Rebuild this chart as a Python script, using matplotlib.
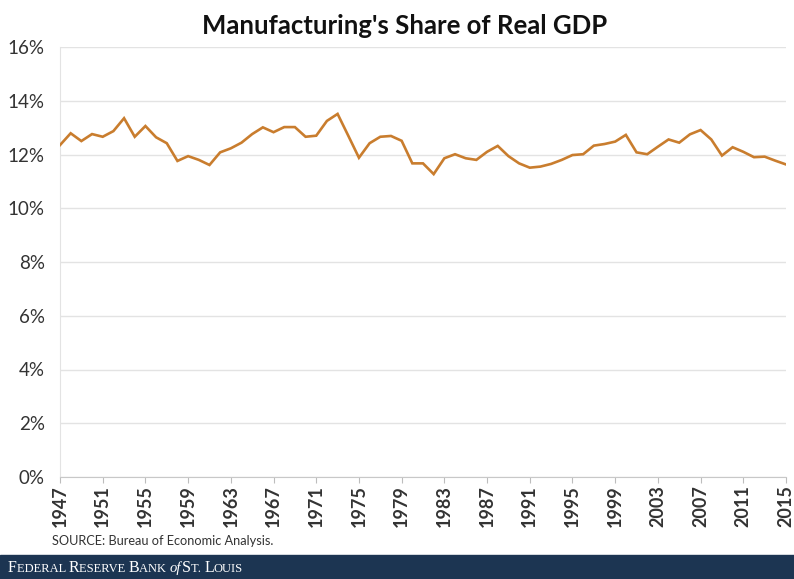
"""Manufacturing's share of real GDP, 1947-2015."""

import matplotlib
matplotlib.use("Agg")
import matplotlib.pyplot as plt
from matplotlib.ticker import FuncFormatter

plt.rcParams["font.family"] = ["Lato", "DejaVu Sans"]

years = list(range(1947, 2016))
share = [
    12.35, 12.79, 12.50, 12.76, 12.66, 12.87, 13.35, 12.66, 13.06, 12.64,
    12.42, 11.76, 11.94, 11.80, 11.61, 12.08, 12.23, 12.44, 12.76, 13.01,
    12.83, 13.02, 13.02, 12.66, 12.70, 13.25, 13.51, 12.70, 11.88, 12.42,
    12.66, 12.69, 12.51, 11.67, 11.67, 11.27, 11.86, 12.01, 11.86, 11.80,
    12.10, 12.32, 11.94, 11.67, 11.51, 11.55, 11.65, 11.80, 11.98, 12.01,
    12.33, 12.39, 12.48, 12.73, 12.08, 12.01, 12.29, 12.56, 12.44, 12.75,
    12.91, 12.56, 11.96, 12.27, 12.10, 11.90, 11.92, 11.77, 11.63,
]
tick_years = list(range(1947, 2016, 4))
y_ticks = [0, 2, 4, 6, 8, 10, 12, 14, 16]

LINE = "#c97d2e"
GRID = "#e3e3e3"
NAVY = "#1c3552"

fig = plt.figure(figsize=(7.94, 5.79), dpi=100)
ax = fig.add_axes([60 / 794, 102 / 579, 726 / 794, 430 / 579])

ax.plot(years, share, color=LINE, lw=1.9, solid_joinstyle="miter", zorder=3)

ax.set_xlim(1947, 2015)
ax.set_ylim(0, 16)
ax.set_yticks(y_ticks)
ax.yaxis.set_major_formatter(FuncFormatter(lambda v, _: f"{v:.0f}%"))
ax.set_xticks(tick_years)
ax.set_xticklabels([str(y) for y in tick_years], rotation=90,
                   fontsize=13, fontweight="bold", color="#333333")
ax.tick_params(axis="y", length=0, pad=11, labelsize=13.5, labelcolor="#333333")
ax.tick_params(axis="x", length=4, color="#bdbdbd", pad=2)

ax.grid(axis="y", color=GRID, lw=1)
for side in ("top", "right"):
    ax.spines[side].set_visible(False)
ax.spines["left"].set_color("#e3e3e3")
ax.spines["bottom"].set_color("#c8c8c8")

fig.text(0.509, 0.955, "Manufacturing's Share of Real GDP", ha="center",
         va="center", fontsize=18.5, fontweight="bold", color="#111111")
fig.text(52 / 794, 1 - 541 / 579, "SOURCE: Bureau of Economic Analysis.",
         ha="left", va="center", fontsize=9.2, color="#333333")

# footer band with the bank name set in small caps
fig.patches.append(plt.Rectangle((0, 0), 1, 24 / 579, transform=fig.transFigure,
                                 color=NAVY, zorder=0))
pieces = [("F", 11.5, "normal"), ("EDERAL ", 9, "normal"), ("R", 11.5, "normal"),
          ("ESERVE ", 9, "normal"), ("B", 11.5, "normal"), ("ANK ", 9, "normal"),
          ("of", 10.5, "italic"), ("S", 11.5, "normal"), ("T. ", 9, "normal"),
          ("L", 11.5, "normal"), ("OUIS", 9, "normal")]
renderer = fig.canvas.get_renderer()
x = 8
for txt, size, style in pieces:
    t = fig.text(x / 794, 7 / 579, txt, fontsize=size, style=style, color="white",
                 family=["Liberation Serif", "DejaVu Serif"], va="baseline",
                 ha="left", zorder=5)
    x = t.get_window_extent(renderer).x1 + (1 if style == "italic" else 0)

fig.savefig("out.png", dpi=100)
